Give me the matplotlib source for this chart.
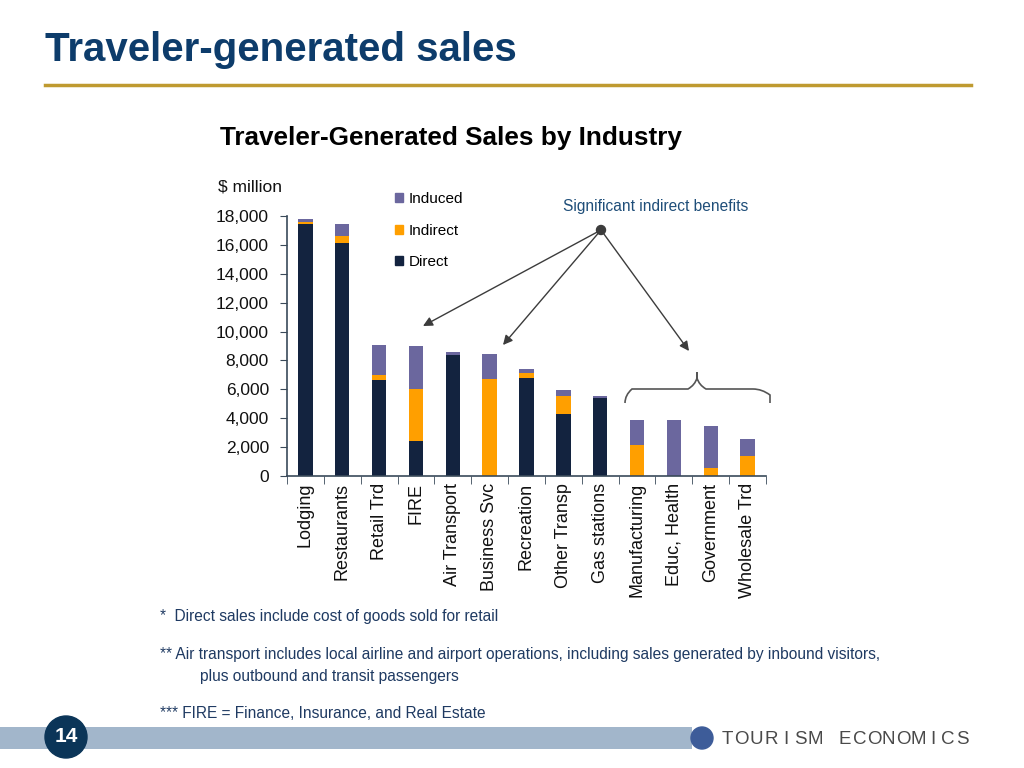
#!/usr/bin/env python

import matplotlib
matplotlib.use('Agg')
import matplotlib.pyplot as plt
from matplotlib import font_manager
from matplotlib.patches import Patch, Rectangle, Ellipse, PathPatch, FancyArrowPatch
from matplotlib.path import Path
import numpy as np

# Industries and sales ($ million)
industries = ['Lodging', 'Restaurants', 'Retail Trd', 'FIRE', 'Air Transport',
              'Business Svc', 'Recreation', 'Other Transp', 'Gas stations',
              'Manufacturing', 'Educ, Health', 'Government', 'Wholesale Trd']
direct = [17450, 16130, 6620, 2450, 8400, 0, 6790, 4320, 5420, 0, 0, 0, 0]
indirect = [160, 490, 400, 3570, 0, 6690, 340, 1220, 0, 2170, 0, 580, 1380]
induced = [160, 830, 2030, 2960, 160, 1730, 250, 440, 100, 1730, 3880, 2900, 1200]

y_ticks = [0, 2000, 4000, 6000, 8000, 10000, 12000, 14000, 16000, 18000]

footnotes = [
    '*  Direct sales include cost of goods sold for retail',
    '** Air transport includes local airline and airport operations, including sales generated by inbound visitors,',
    'plus outbound and transit passengers',
    '*** FIRE = Finance, Insurance, and Real Estate',
]

# Colours
C_DIRECT = '#13233F'
C_INDIRECT = '#FF9F00'
C_INDUCED = '#6B679E'
C_NAVY = '#0D3C6B'
C_NOTE = '#1F3A62'

# Pick fonts, narrow one for the slide text if it is around
names = {f.name for f in font_manager.fontManager.ttflist}
SANS = 'Liberation Sans' if 'Liberation Sans' in names else 'DejaVu Sans'
NARROW = 'Liberation Sans Narrow' if 'Liberation Sans Narrow' in names else SANS
plt.rcParams['font.family'] = SANS

W, H = 1024, 768


def fx(x):
    return x / W


def fy(y):
    return 1 - y / H


def disc(cx, cy, r, color, z=3):
    # round dot given in pixels, so it stays round on a non-square figure
    return Ellipse((fx(cx), fy(cy)), 2 * r / W, 2 * r / H,
                   transform=fig.transFigure, color=color, zorder=z)


fig = plt.figure(figsize=(W / 100, H / 100), dpi=100)

# Slide header
fig.text(fx(45), fy(50), 'Traveler-generated sales', family=NARROW,
         fontsize=29, fontweight='bold', color=C_NAVY, va='center', ha='left')
fig.add_artist(plt.Line2D([fx(45), fx(971)], [fy(85), fy(85)],
                          transform=fig.transFigure, color='#BF9A30', lw=2.5))

# Chart title and unit
fig.text(fx(220), fy(138), 'Traveler-Generated Sales by Industry',
         fontsize=18.8, fontweight='bold', color='black', va='center', ha='left')
fig.text(fx(218), fy(187), '$ million', fontsize=12.5, color='#111111',
         va='center', ha='left')

# The stacked bars
ax = fig.add_axes([fx(287), fy(476), (766 - 287) / W, (476 - 216) / H])
x = np.arange(len(industries))
bottom2 = np.array(direct) + np.array(indirect)
ax.bar(x, direct, width=0.39, color=C_DIRECT, label='Direct')
ax.bar(x, indirect, width=0.39, bottom=direct, color=C_INDIRECT, label='Indirect')
ax.bar(x, induced, width=0.39, bottom=bottom2, color=C_INDUCED, label='Induced')

ax.set_xlim(-0.5, len(industries) - 0.5)
ax.set_ylim(0, 18000)
ax.set_yticks(y_ticks)
ax.set_yticklabels(['{:,}'.format(v) for v in y_ticks])
ax.set_xticks(x)
ax.set_xticklabels(industries, rotation=90, fontsize=13, color='#111111')
ax.set_xticks(np.arange(len(industries) + 1) - 0.5, minor=True)
ax.tick_params(axis='x', which='major', length=0, pad=5)
ax.tick_params(axis='x', which='minor', length=6, color='#3A4A5A', direction='out')
ax.tick_params(axis='y', length=5, color='#3A4A5A', labelsize=12.5,
               labelcolor='#111111', pad=8)
for side in ['top', 'right']:
    ax.spines[side].set_visible(False)
for side in ['left', 'bottom']:
    ax.spines[side].set_color('#3A4A5A')
    ax.spines[side].set_linewidth(1.2)

# Legend in reverse stack order
handles = [Patch(color=C_INDUCED), Patch(color=C_INDIRECT), Patch(color=C_DIRECT)]
fig.legend(handles, ['Induced', 'Indirect', 'Direct'], loc='upper left',
           bbox_to_anchor=(fx(395), fy(192)), frameon=False, fontsize=11,
           handlelength=0.55, handleheight=0.55, handletextpad=0.35,
           labelspacing=1.15, borderaxespad=0, borderpad=0)

# Call-out with arrows
fig.text(fx(563), fy(207), 'Significant indirect benefits', fontsize=11.2,
         color='#1F4E79', va='center', ha='left')
start = (fx(601), fy(230))
for tx, ty in [(423, 326), (503, 345), (689, 351)]:
    fig.add_artist(FancyArrowPatch(
        start, (fx(tx), fy(ty)), transform=fig.transFigure,
        arrowstyle='-|>', mutation_scale=14, color='#3C3C3C', lw=1.0,
        shrinkA=0, shrinkB=0))
fig.add_artist(disc(601, 230, 4.5, '#3C3C3C', z=5))

# Curly brace over the last four bars
bx = [625, 625, 632, 640, 688, 695, 697, 697, 697, 699, 706, 753, 762, 770, 770]
by = [403, 395, 389, 389, 389, 385, 378, 372, 378, 385, 389, 389, 389, 395, 403]
codes = [Path.MOVETO, Path.CURVE3, Path.CURVE3, Path.LINETO, Path.LINETO,
         Path.CURVE3, Path.CURVE3, Path.LINETO, Path.LINETO, Path.CURVE3,
         Path.CURVE3, Path.LINETO, Path.CURVE3, Path.CURVE3, Path.LINETO]
brace = Path([(fx(a), fy(b)) for a, b in zip(bx, by)], codes)
fig.add_artist(PathPatch(brace, transform=fig.transFigure, fill=False,
                         edgecolor='#555555', lw=1.2))

# Footnotes
note_size = 11.2
fig.text(fx(160), fy(617), footnotes[0], family=NARROW, fontsize=note_size, color=C_NOTE, va='center')
fig.text(fx(160), fy(655), footnotes[1], family=NARROW, fontsize=note_size, color=C_NOTE, va='center')
fig.text(fx(200), fy(676), footnotes[2], family=NARROW, fontsize=note_size, color=C_NOTE, va='center')
fig.text(fx(160), fy(713), footnotes[3], family=NARROW, fontsize=note_size, color=C_NOTE, va='center')

# Footer band, page number and logo
fig.add_artist(Rectangle((0, fy(749)), fx(692), (749 - 727) / H,
                         transform=fig.transFigure, color='#A2B6CB', lw=0))
fig.add_artist(disc(66, 737, 21, '#0B3558'))
fig.text(fx(66), fy(737), '14', fontsize=15, fontweight='bold', color='white',
         ha='center', va='center', family=NARROW, zorder=4)
fig.add_artist(disc(702, 738, 11, '#3D5C99'))
logo = 'TOURISM ECONOMICS'
for i, ch in enumerate(logo):
    fig.text(fx(727 + i * 14.7), fy(739), ch, family=NARROW, fontsize=13.5,
             color='#4A4A4A', ha='center', va='center')

plt.savefig('out.png', dpi=100)
